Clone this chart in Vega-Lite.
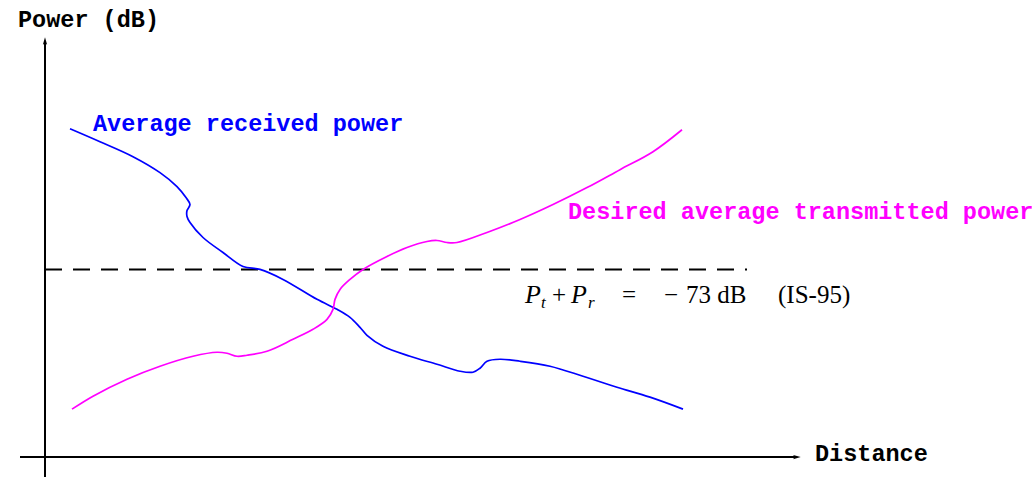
{
  "$schema": "https://vega.github.io/schema/vega-lite/v6.json",
  "autosize": {"type": "fit", "contains": "padding"},
  "width": 1036,
  "height": 478,
  "padding": 0,
  "background": "white",
  "config": {"view": {"stroke": null}},
  "datasets": {
    "axes": [
      {"axis": "power", "x": 0, "y": -20, "x2": 0, "y2": 416},
      {"axis": "distance", "x": -25, "y": 0, "x2": 751, "y2": 0}
    ],
    "threshold": [{"x": 0, "x2": 702, "y": 188}],
    "curves": [
      {"series": "received", "i": 1, "dist": 25, "power": 329},
      {"series": "received", "i": 2, "dist": 55, "power": 316},
      {"series": "received", "i": 3, "dist": 88, "power": 301},
      {"series": "received", "i": 4, "dist": 115, "power": 285},
      {"series": "received", "i": 5, "dist": 132, "power": 271},
      {"series": "received", "i": 6, "dist": 141, "power": 260},
      {"series": "received", "i": 7, "dist": 145, "power": 253},
      {"series": "received", "i": 8, "dist": 142, "power": 247},
      {"series": "received", "i": 9, "dist": 142, "power": 241},
      {"series": "received", "i": 10, "dist": 145, "power": 235},
      {"series": "received", "i": 11, "dist": 158, "power": 220},
      {"series": "received", "i": 12, "dist": 178, "power": 205},
      {"series": "received", "i": 13, "dist": 198, "power": 191},
      {"series": "received", "i": 14, "dist": 215, "power": 188},
      {"series": "received", "i": 15, "dist": 238, "power": 178},
      {"series": "received", "i": 16, "dist": 272, "power": 158},
      {"series": "received", "i": 17, "dist": 292, "power": 148},
      {"series": "received", "i": 18, "dist": 305, "power": 140},
      {"series": "received", "i": 19, "dist": 315, "power": 130},
      {"series": "received", "i": 20, "dist": 322, "power": 122},
      {"series": "received", "i": 21, "dist": 338, "power": 111},
      {"series": "received", "i": 22, "dist": 365, "power": 101},
      {"series": "received", "i": 23, "dist": 392, "power": 93},
      {"series": "received", "i": 24, "dist": 415, "power": 86},
      {"series": "received", "i": 25, "dist": 428, "power": 85},
      {"series": "received", "i": 26, "dist": 435, "power": 89},
      {"series": "received", "i": 27, "dist": 442, "power": 96},
      {"series": "received", "i": 28, "dist": 455, "power": 98},
      {"series": "received", "i": 29, "dist": 475, "power": 96},
      {"series": "received", "i": 30, "dist": 505, "power": 91},
      {"series": "received", "i": 31, "dist": 538, "power": 81},
      {"series": "received", "i": 32, "dist": 572, "power": 70},
      {"series": "received", "i": 33, "dist": 605, "power": 60},
      {"series": "received", "i": 34, "dist": 638, "power": 48},
      {"series": "transmitted", "i": 1, "dist": 27, "power": 48},
      {"series": "transmitted", "i": 2, "dist": 48, "power": 61},
      {"series": "transmitted", "i": 3, "dist": 82, "power": 78},
      {"series": "transmitted", "i": 4, "dist": 115, "power": 91},
      {"series": "transmitted", "i": 5, "dist": 148, "power": 101},
      {"series": "transmitted", "i": 6, "dist": 172, "power": 105},
      {"series": "transmitted", "i": 7, "dist": 182, "power": 104},
      {"series": "transmitted", "i": 8, "dist": 192, "power": 101},
      {"series": "transmitted", "i": 9, "dist": 202, "power": 102},
      {"series": "transmitted", "i": 10, "dist": 222, "power": 106},
      {"series": "transmitted", "i": 11, "dist": 248, "power": 118},
      {"series": "transmitted", "i": 12, "dist": 268, "power": 128},
      {"series": "transmitted", "i": 13, "dist": 282, "power": 138},
      {"series": "transmitted", "i": 14, "dist": 288, "power": 148},
      {"series": "transmitted", "i": 15, "dist": 290, "power": 158},
      {"series": "transmitted", "i": 16, "dist": 295, "power": 168},
      {"series": "transmitted", "i": 17, "dist": 305, "power": 178},
      {"series": "transmitted", "i": 18, "dist": 318, "power": 188},
      {"series": "transmitted", "i": 19, "dist": 342, "power": 201},
      {"series": "transmitted", "i": 20, "dist": 362, "power": 210},
      {"series": "transmitted", "i": 21, "dist": 382, "power": 216},
      {"series": "transmitted", "i": 22, "dist": 392, "power": 217},
      {"series": "transmitted", "i": 23, "dist": 402, "power": 215},
      {"series": "transmitted", "i": 24, "dist": 412, "power": 215},
      {"series": "transmitted", "i": 25, "dist": 442, "power": 225},
      {"series": "transmitted", "i": 26, "dist": 475, "power": 238},
      {"series": "transmitted", "i": 27, "dist": 508, "power": 253},
      {"series": "transmitted", "i": 28, "dist": 542, "power": 270},
      {"series": "transmitted", "i": 29, "dist": 575, "power": 288},
      {"series": "transmitted", "i": 30, "dist": 608, "power": 306},
      {"series": "transmitted", "i": 31, "dist": 637, "power": 328}
    ],
    "labels": [
      {"text": "Power (dB)", "x": -27, "y": 431, "tone": "axis"},
      {"text": "Distance", "x": 770, "y": -4, "tone": "axis"},
      {"text": "Average received power", "x": 48, "y": 327, "tone": "received"},
      {"text": "Desired average transmitted power", "x": 523, "y": 239, "tone": "transmitted"}
    ],
    "mathItalic": [
      {"text": "P", "x": 480, "y": 154},
      {"text": "P", "x": 526, "y": 154}
    ],
    "mathSub": [
      {"text": "t", "x": 496, "y": 149},
      {"text": "r", "x": 543, "y": 149}
    ],
    "mathUpright": [
      {"text": "+", "x": 507, "y": 154},
      {"text": "=", "x": 577, "y": 154},
      {"text": "−", "x": 619, "y": 154},
      {"text": "73 dB", "x": 641, "y": 154},
      {"text": "(IS-95)", "x": 733, "y": 154}
    ]
  },
  "layer": [
    {
      "data": {"name": "axes"},
      "mark": {"type": "rule", "color": "black", "strokeWidth": 2},
      "encoding": {
        "x": {"field": "x", "type": "quantitative", "scale": {"domain": [-45, 991], "nice": false, "zero": false}, "axis": null},
        "y": {"field": "y", "type": "quantitative", "scale": {"domain": [-20, 458], "nice": false, "zero": false}, "axis": null},
        "x2": {"field": "x2"},
        "y2": {"field": "y2"}
      }
    },
    {
      "data": {"name": "axes"},
      "transform": [{"filter": "datum.axis === 'power'"}],
      "mark": {"type": "point", "filled": true, "color": "black", "opacity": 1, "size": 90, "shape": "M0,-1L-0.45,0.6L0,0.3L0.45,0.6Z"},
      "encoding": {
        "x": {"field": "x2", "type": "quantitative"},
        "y": {"field": "y2", "type": "quantitative"}
      }
    },
    {
      "data": {"name": "axes"},
      "transform": [{"filter": "datum.axis === 'distance'"}],
      "mark": {"type": "point", "filled": true, "color": "black", "opacity": 1, "size": 90, "shape": "M1,0L-0.6,-0.45L-0.3,0L-0.6,0.45Z"},
      "encoding": {
        "x": {"field": "x2", "type": "quantitative"},
        "y": {"field": "y2", "type": "quantitative"}
      }
    },
    {
      "data": {"name": "threshold"},
      "mark": {"type": "rule", "color": "black", "strokeWidth": 2, "strokeDash": [17, 11]},
      "encoding": {
        "x": {"field": "x", "type": "quantitative"},
        "x2": {"field": "x2"},
        "y": {"field": "y", "type": "quantitative"}
      }
    },
    {
      "data": {"name": "curves"},
      "mark": {"type": "line", "interpolate": "catmull-rom", "strokeWidth": 1.7},
      "encoding": {
        "x": {"field": "dist", "type": "quantitative"},
        "y": {"field": "power", "type": "quantitative"},
        "order": {"field": "i", "type": "quantitative"},
        "color": {"field": "series", "type": "nominal", "scale": {"domain": ["axis", "received", "transmitted"], "range": ["#000000", "#0000ff", "#ff00ff"]}, "legend": null}
      }
    },
    {
      "data": {"name": "labels"},
      "mark": {"type": "text", "font": "Liberation Mono", "fontWeight": "bold", "fontSize": 23.5, "align": "left", "baseline": "alphabetic"},
      "encoding": {
        "x": {"field": "x", "type": "quantitative"},
        "y": {"field": "y", "type": "quantitative"},
        "text": {"field": "text"},
        "color": {"field": "tone", "type": "nominal", "legend": null}
      }
    },
    {
      "data": {"name": "mathItalic"},
      "mark": {"type": "text", "font": "Liberation Serif", "fontStyle": "italic", "fontSize": 26, "align": "left", "baseline": "alphabetic", "color": "black"},
      "encoding": {
        "x": {"field": "x", "type": "quantitative"},
        "y": {"field": "y", "type": "quantitative"},
        "text": {"field": "text"}
      }
    },
    {
      "data": {"name": "mathSub"},
      "mark": {"type": "text", "font": "Liberation Serif", "fontStyle": "italic", "fontSize": 17, "align": "left", "baseline": "alphabetic", "color": "black"},
      "encoding": {
        "x": {"field": "x", "type": "quantitative"},
        "y": {"field": "y", "type": "quantitative"},
        "text": {"field": "text"}
      }
    },
    {
      "data": {"name": "mathUpright"},
      "mark": {"type": "text", "font": "Liberation Serif", "fontSize": 25, "align": "left", "baseline": "alphabetic", "color": "black"},
      "encoding": {
        "x": {"field": "x", "type": "quantitative"},
        "y": {"field": "y", "type": "quantitative"},
        "text": {"field": "text"}
      }
    }
  ]
}
